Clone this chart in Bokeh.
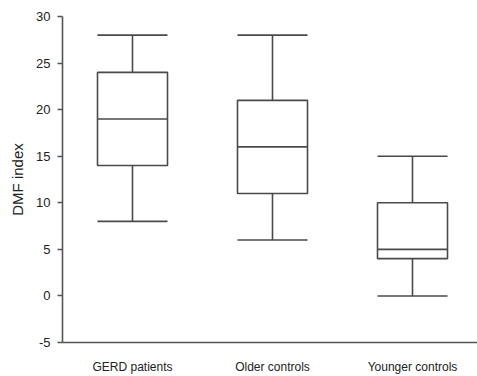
from bokeh.plotting import figure
from bokeh.models import ColumnDataSource, FixedTicker, Range1d
from bokeh.embed import file_html
from bokeh.resources import INLINE

categories = ["GERD patients", "Older controls", "Younger controls"]
lower_whisker = [8, 6, 0]
q1 = [14, 11, 4]
median = [19, 16, 5]
q3 = [24, 21, 10]
upper_whisker = [28, 28, 15]
y_ticks = [-5, 0, 5, 10, 15, 20, 25, 30]

pos = [i + 0.5 for i in range(len(categories))]
hw = 0.25
src = ColumnDataSource(dict(
    x=pos, left=[p - hw for p in pos], right=[p + hw for p in pos],
    lw=lower_whisker, q1=q1, med=median, q3=q3, uw=upper_whisker,
))

p = figure(width=477, height=376, output_backend="svg", toolbar_location=None,
           x_range=Range1d(0, 415 / 140), y_range=Range1d(-5, 30),
           min_border_left=62, min_border_right=0, min_border_top=16, min_border_bottom=32)
p.outline_line_color = None
p.xgrid.visible = False
p.ygrid.visible = False

col = "#4a4a4a"
lw = 1.6
p.segment(x0="x", y0="q3", x1="x", y1="uw", source=src, line_color=col, line_width=lw)
p.segment(x0="x", y0="lw", x1="x", y1="q1", source=src, line_color=col, line_width=lw)
p.segment(x0="left", y0="uw", x1="right", y1="uw", source=src, line_color=col, line_width=lw)
p.segment(x0="left", y0="lw", x1="right", y1="lw", source=src, line_color=col, line_width=lw)
p.quad(left="left", right="right", bottom="q1", top="q3", source=src,
       fill_color="white", line_color=col, line_width=lw)
p.segment(x0="left", y0="med", x1="right", y1="med", source=src, line_color=col, line_width=lw)

xa = p.xaxis[0]
ya = p.yaxis[0]

xa.ticker = FixedTicker(ticks=pos)
xa.major_label_overrides = {pp: c for pp, c in zip(pos, categories)}
xa.major_tick_line_color = None
xa.minor_tick_line_color = None
xa.major_label_standoff = 11
xa.major_label_text_font = "Liberation Sans"
xa.major_label_text_font_size = "12px"
xa.major_label_text_color = "#222222"

ya.ticker = FixedTicker(ticks=y_ticks)
ya.major_label_overrides = {t: str(t) for t in y_ticks}
ya.minor_tick_line_color = None
ya.major_tick_out = 5
ya.major_tick_in = 0
ya.major_tick_line_color = "#555555"
ya.major_tick_line_width = 1.4
ya.major_label_standoff = 7
ya.major_label_text_font = "Liberation Sans"
ya.major_label_text_font_size = "13px"
ya.major_label_text_color = "#222222"
ya.axis_label = "DMF index"
ya.axis_label_text_font = "Liberation Sans"
ya.axis_label_text_font_style = "normal"
ya.axis_label_text_font_size = "15px"
ya.axis_label_text_color = "#222222"
ya.axis_label_standoff = 7

for ax in (xa, ya):
    ax.axis_line_color = "#555555"
    ax.axis_line_width = 1.6

open("out.html", "w").write(file_html(p, INLINE))
